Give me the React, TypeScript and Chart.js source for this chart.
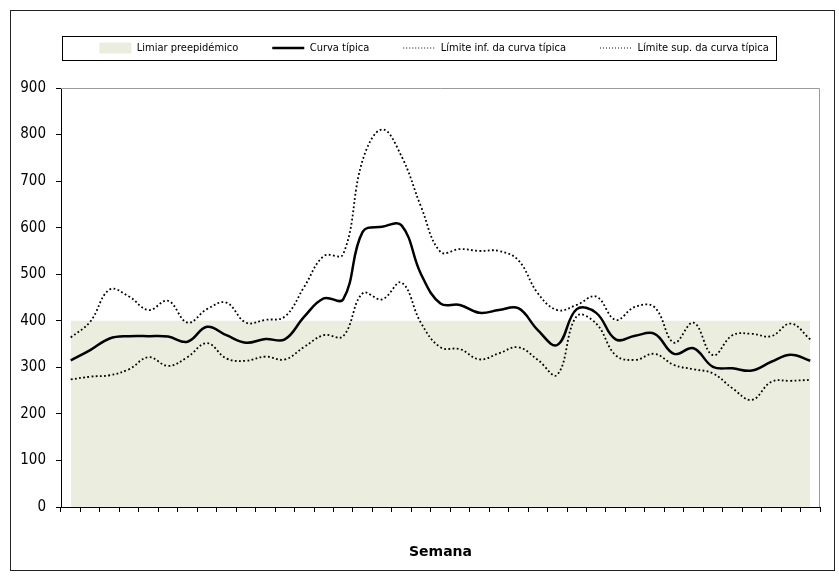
import React, { useEffect, useRef } from 'react';
import { Chart, registerables } from 'chart.js';

Chart.register(...registerables);

// Semanas da época (40 a 26)
const weeks = [
  '40', '41', '42', '43', '44', '45', '46', '47', '48', '49', '50', '51', '52',
  '1', '2', '3', '4', '5', '6', '7', '8', '9', '10', '11', '12', '13',
  '14', '15', '16', '17', '18', '19', '20', '21', '22', '23', '24', '25', '26',
];

const threshold = [
  400, 400, 400, 400, 400, 400, 400, 400, 400, 400, 400, 400, 400,
  400, 400, 400, 400, 400, 400, 400, 400, 400, 400, 400, 400, 400,
  400, 400, 400, 400, 400, 400, 400, 400, 400, 400, 400, 400, 400,
];

const typicalCurve = [
  315, 337, 362, 367, 367, 366, 355, 387, 369, 353, 361, 360, 409,
  448, 446, 591, 602, 605, 500, 437, 434, 417, 423, 427, 380, 348,
  425, 417, 360, 368, 372, 329, 341, 301, 298, 293, 312, 327, 314,
];

const lowerLimit = [
  274, 280, 283, 296, 322, 303, 322, 352, 319, 314, 323, 317, 344,
  369, 367, 459, 446, 482, 395, 343, 339, 317, 330, 343, 316, 284,
  410, 394, 326, 316, 329, 305, 296, 287, 255, 230, 269, 271, 273,
];

const upperLimit = [
  364, 398, 467, 452, 423, 443, 396, 425, 439, 396, 402, 409, 473,
  539, 543, 745, 811, 753, 645, 548, 554, 550, 550, 530, 459, 423,
  434, 452, 402, 430, 429, 353, 396, 326, 369, 372, 367, 394, 360,
];

const seriesNames = [
  'Limiar preepidémico',
  'Curva típica',
  'Límite inf. da curva típica',
  'Límite sup. da curva típica',
];

const yTicks = [0, 100, 200, 300, 400, 500, 600, 700, 800, 900];

const FONT = "'DejaVu Sans Condensed', 'DejaVu Sans', sans-serif";
const GREEN = 'rgb(235,238,222)';

export default function App() {
  const ref = useRef<HTMLCanvasElement | null>(null);

  useEffect(() => {
    if (!ref.current) return;

    const framePlugin = {
      id: 'frames',
      afterLayout(chart: any) {
        // shift the legend row to the right, as in the original
        if (chart.legend) {
          chart.legend.left += 19;
          chart.legend.right += 19;
        }
      },
      beforeDatasetsDraw(chart: any) {
        const { ctx, chartArea } = chart;
        ctx.save();
        ctx.strokeStyle = '#9a9a9a';
        ctx.lineWidth = 1;
        ctx.beginPath();
        ctx.moveTo(chartArea.left, Math.round(chartArea.top) + 0.5);
        ctx.lineTo(Math.round(chartArea.right) - 0.5, Math.round(chartArea.top) + 0.5);
        ctx.lineTo(Math.round(chartArea.right) - 0.5, chartArea.bottom);
        ctx.stroke();
        ctx.restore();
      },
      afterDraw(chart: any) {
        const { ctx } = chart;
        ctx.save();
        ctx.strokeStyle = '#000';
        ctx.lineWidth = 1;
        // legend frame
        ctx.strokeRect(62.5, 36.5, 714, 24);
        // outer chart frame
        ctx.strokeStyle = '#222';
        ctx.strokeRect(10.5, 10.5, 824, 560);
        ctx.restore();
      },
    };

    const chart = new Chart(ref.current, {
      type: 'line',
      data: {
        labels: weeks,
        datasets: [
          {
            label: seriesNames[0],
            data: threshold,
            fill: 'origin',
            backgroundColor: GREEN,
            borderColor: GREEN,
            borderWidth: 0,
            pointRadius: 0,
            tension: 0,
          },
          {
            label: seriesNames[1],
            data: typicalCurve,
            fill: false,
            borderColor: '#000',
            borderWidth: 2.5,
            pointRadius: 0,
            tension: 0.4,
          },
          {
            label: seriesNames[2],
            data: lowerLimit,
            fill: false,
            borderColor: '#000',
            borderWidth: 1.8,
            borderDash: [1.8, 2.4],
            pointRadius: 0,
            tension: 0.4,
          },
          {
            label: seriesNames[3],
            data: upperLimit,
            fill: false,
            borderColor: '#000',
            borderWidth: 1.8,
            borderDash: [1.8, 2.4],
            pointRadius: 0,
            tension: 0.4,
          },
        ],
      },
      options: {
        responsive: false,
        animation: false,
        devicePixelRatio: 1,
        layout: { padding: { left: 10, right: 19, top: 8.5, bottom: 0 } },
        plugins: {
          filler: { drawTime: 'beforeDatasetsDraw' },
          tooltip: { enabled: false },
          subtitle: {
            display: true,
            text: '',
            font: { size: 10 },
            padding: { top: 12.5, bottom: 0 },
          },
          legend: {
            display: true,
            position: 'top',
            weight: 3000,
            labels: {
              usePointStyle: true,
              pointStyleWidth: 32,
              boxHeight: 11,
              padding: 34,
              color: '#000',
              font: { family: FONT, size: 11 },
              generateLabels: () => [
                {
                  text: seriesNames[0], fillStyle: GREEN, strokeStyle: GREEN,
                  lineWidth: 0, pointStyle: 'rect', hidden: false, datasetIndex: 0,
                },
                {
                  text: seriesNames[1], fillStyle: '#000', strokeStyle: '#000',
                  lineWidth: 2.5, pointStyle: 'line', hidden: false, datasetIndex: 1,
                },
                {
                  text: seriesNames[2], fillStyle: '#000', strokeStyle: '#000',
                  lineWidth: 1, lineDash: [1, 2], pointStyle: 'line', hidden: false, datasetIndex: 2,
                },
                {
                  text: seriesNames[3], fillStyle: '#000', strokeStyle: '#000',
                  lineWidth: 1, lineDash: [1, 2], pointStyle: 'line', hidden: false, datasetIndex: 3,
                },
              ],
            },
          },
        },
        scales: {
          x: {
            type: 'category',
            offset: true,
            grid: {
              offset: true,
              drawOnChartArea: false,
              drawTicks: true,
              tickLength: 5,
              color: '#000',
            },
            border: { color: '#000', width: 1 },
            ticks: { display: false },
            title: {
              display: true,
              text: 'Semana',
              color: '#000',
              font: { family: "'DejaVu Sans', sans-serif", size: 14, weight: 'bold' },
              padding: { top: 0, bottom: 15.6 },
            },
            afterFit(scale: any) {
              scale.height = 69;
            },
          },
          y: {
            type: 'linear',
            min: 0,
            max: 900,
            afterBuildTicks(scale: any) {
              scale.ticks = yTicks.map((v) => ({ value: v }));
            },
            ticks: {
              stepSize: 100,
              color: '#000',
              padding: 10,
              font: { family: FONT, size: 15 },
            },
            grid: {
              drawOnChartArea: false,
              drawTicks: true,
              tickLength: 5,
              color: '#000',
            },
            border: { color: '#000', width: 1 },
            afterFit(scale: any) {
              scale.width = 51;
            },
          },
        },
      },
      plugins: [framePlugin],
    } as any);

    return () => chart.destroy();
  }, []);

  return (
    <div style={{ position: 'absolute', left: 0, top: 0, width: 839, height: 576, background: '#fff' }}>
      <canvas ref={ref} width={839} height={576} style={{ display: 'block' }} />
    </div>
  );
}
